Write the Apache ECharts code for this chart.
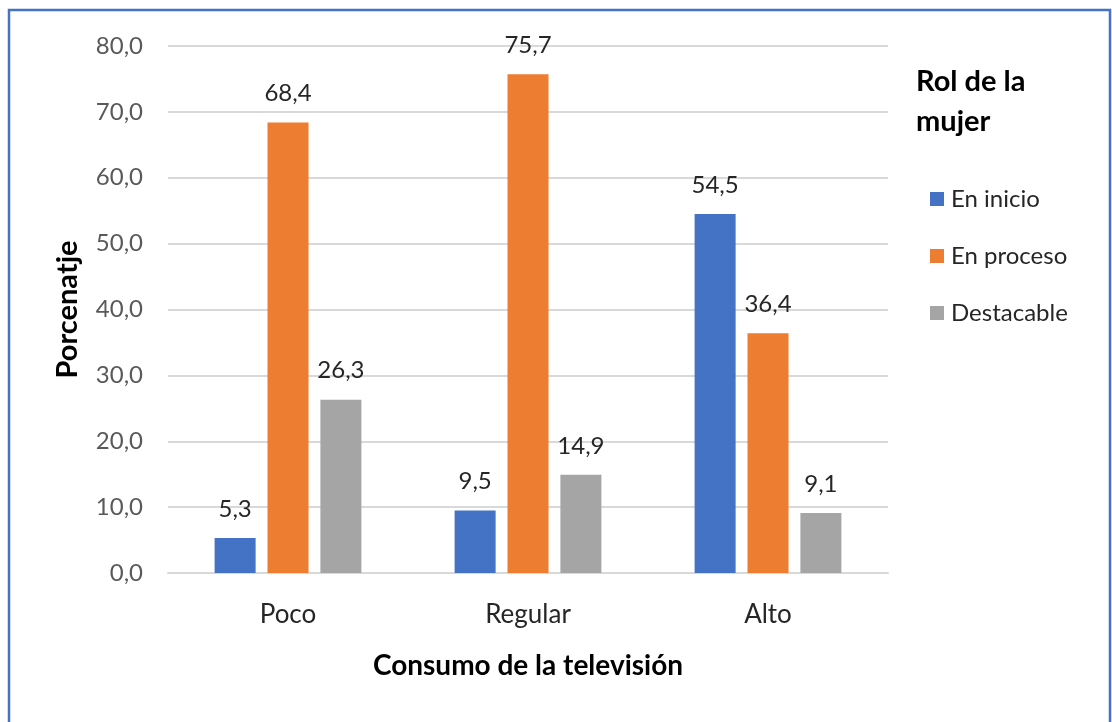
<!DOCTYPE html>
<html>
<head>
<meta charset="utf-8">
<script src="https://cdn.jsdelivr.net/npm/echarts@6/dist/echarts.min.js"></script>
<style>
html,body{margin:0;padding:0;background:#fff;}
#chart{width:1112px;height:722px;}
</style>
</head>
<body>
<div id="chart"></div>
<script>
const categories = ['Poco', 'Regular', 'Alto'];
const seriesNames = ['En inicio', 'En proceso', 'Destacable'];
const enInicio = [5.3, 9.5, 54.5];
const enProceso = [68.4, 75.7, 36.4];
const destacable = [26.3, 14.9, 9.1];
const colors = ['#4472C4', '#ED7D31', '#A5A5A5'];
const FONT = 'Lato, "Open Sans", sans-serif';

const fmt = v => Number(v).toFixed(1).replace('.', ',');

const chart = echarts.init(document.getElementById('chart'), null, {renderer: 'canvas'});
const seriesData = [enInicio, enProceso, destacable];

chart.setOption({
  animation: false,
  textStyle: {fontFamily: FONT},
  graphic: [{
    type: 'rect',
    shape: {x: 9, y: 10, width: 1101, height: 740},
    style: {fill: 'none', stroke: '#4472C4', lineWidth: 2.5},
    silent: true
  }],
  title: {
    text: 'Rol de la\nmujer',
    left: 911,
    top: 57,
    textStyle: {fontFamily: FONT, fontSize: 29, fontWeight: 'bold', color: '#000', lineHeight: 40}
  },
  legend: {
    orient: 'vertical',
    left: 925,
    top: 182,
    itemWidth: 14,
    itemHeight: 14,
    itemGap: 33,
    icon: 'rect',
    data: seriesNames,
    textStyle: {fontFamily: FONT, fontSize: 24, lineHeight: 24, color: '#262626', padding: [0, 0, 0, 2]}
  },
  grid: {left: 168, right: 224, top: 46, bottom: 149, containLabel: false},
  xAxis: {
    type: 'category',
    data: categories,
    name: 'Consumo de la televisión',
    nameLocation: 'middle',
    nameGap: 79,
    nameTextStyle: {fontFamily: FONT, fontSize: 28, fontWeight: 'bold', color: '#000'},
    axisLine: {show: true, lineStyle: {color: '#D9D9D9', width: 2}},
    axisTick: {show: false},
    axisLabel: {fontFamily: FONT, fontSize: 26, color: '#262626', margin: 29}
  },
  yAxis: {
    type: 'value',
    min: 0,
    max: 80,
    interval: 10,
    name: 'Porcenatje',
    nameLocation: 'middle',
    nameGap: 86,
    nameTextStyle: {fontFamily: FONT, fontSize: 29, fontWeight: 'bold', color: '#000'},
    axisLine: {show: false},
    axisTick: {show: false},
    axisLabel: {fontFamily: FONT, fontSize: 24, color: '#595959', margin: 25, formatter: fmt},
    splitLine: {lineStyle: {color: '#D9D9D9', width: 2}}
  },
  series: seriesNames.map((n, i) => ({
    name: n,
    type: 'bar',
    data: seriesData[i],
    barWidth: 41,
    barGap: '29%',
    itemStyle: {color: colors[i]},
    label: {
      show: true,
      position: 'top',
      distance: 17,
      fontFamily: FONT,
      fontSize: 24,
      color: '#262626',
      formatter: p => fmt(p.value)
    }
  }))
});
</script>
</body>
</html>
